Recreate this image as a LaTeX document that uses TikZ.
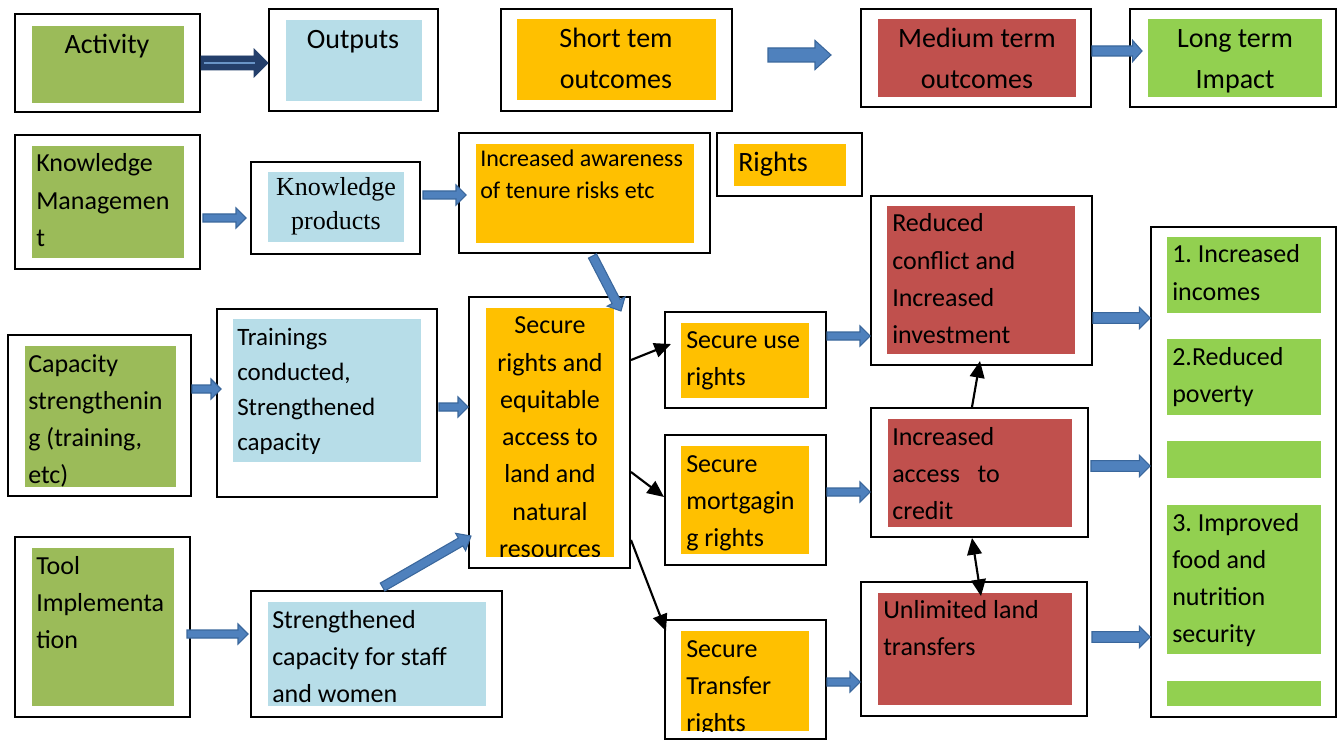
\documentclass[tikz,border=0pt]{standalone}
\usepackage{fontspec}
\setmainfont{Carlito}
\newfontfamily\serifKP{Liberation Serif}
\usetikzlibrary{calc,fit,arrows.meta}
\frenchspacing

\definecolor{cAct}{HTML}{9BBB59}
\definecolor{cOut}{HTML}{B7DDE8}
\definecolor{cShort}{HTML}{FFC000}
\definecolor{cMed}{HTML}{C0504D}
\definecolor{cLong}{HTML}{92D050}
\definecolor{cArrow}{HTML}{4F81BD}
\definecolor{cArrowEdge}{HTML}{3A679C}
\definecolor{cNavy}{HTML}{243F6B}

% text sizes
\newcommand\fTop{\fontsize{21pt}{30.75pt}\selectfont}
\newcommand\fMain{\fontsize{19.5pt}{27.9pt}\selectfont}
\newcommand\fTrain{\fontsize{18.75pt}{26.25pt}\selectfont}
\newcommand\fSmall{\fontsize{18pt}{24pt}\selectfont}
\newcommand\fKP{\serifKP\fontsize{19.5pt}{25.5pt}\selectfont}

% stacked lines, baseline on the first line
\newcommand\tl[1]{\begin{tabular}[t]{@{}l@{}}#1\end{tabular}}
\newcommand\tc[1]{\begin{tabular}[t]{@{}c@{}}#1\end{tabular}}

% block arrow: [style]{half shaft}{half head}{head length}{from}{to}
\newcommand\barrow[6][bluearr]{%
  \coordinate (ba-s) at #5;
  \coordinate (ba-e) at #6;
  \coordinate (ba-h) at ($(ba-e)!#4!(ba-s)$);
  \filldraw[#1] ($(ba-s)!#2!90:(ba-e)$) -- ($(ba-h)!#2!-90:(ba-s)$)
    -- ($(ba-h)!#3!-90:(ba-s)$) -- (ba-e) -- ($(ba-h)!#3!90:(ba-s)$)
    -- ($(ba-h)!#2!90:(ba-s)$) -- ($(ba-s)!#2!-90:(ba-e)$) -- cycle;}

\tikzset{
  frame/.style={draw=black, line width=1.5pt, inner sep=0pt},
  bluearr/.style={fill=cArrow, draw=cArrowEdge, line width=0.8pt, line join=miter},
  navyarr/.style={fill=cNavy, draw=cNavy, line width=0.6pt},
  blk/.style={draw=black, line width=1.6pt, -{Triangle[length=12.5pt,width=11pt]}},
  blkboth/.style={draw=black, line width=1.6pt,
    {Triangle[length=12.5pt,width=11pt]}-{Triangle[length=12.5pt,width=11pt]}},
  lbl/.style={inner sep=0pt, anchor=base west, text=black},
  lblc/.style={inner sep=0pt, anchor=base, text=black},
}

\begin{document}
\begin{tikzpicture}[x=0.75pt,y=-0.75pt]
\useasboundingbox[fill=white] (0,0) rectangle (1337,741);

% ---------- outer frames ----------
\node[frame, fit={(15,14) (200,112)}] (act) {};
\node[frame, fit={(269,9) (438,111)}] (out) {};
\node[frame, fit={(501,9) (732,111)}] (st) {};
\node[frame, fit={(861,9) (1091,107)}] (mt) {};
\node[frame, fit={(1130,9) (1336,107)}] (lt) {};
\node[frame, fit={(15,135) (200,269)}] (km) {};
\node[frame, fit={(251,162) (420,254)}] (kp) {};
\node[frame, fit={(459,133) (710,253)}] (ia) {};
\node[frame, fit={(717,133) (862,196)}] (rt) {};
\node[frame, fit={(8,335) (191,496)}] (cs) {};
\node[frame, fit={(217,309) (437,497)}] (tr) {};
\node[frame, fit={(469,297) (630,568)}] (sr) {};
\node[frame, fit={(665,312) (826,408)}] (su) {};
\node[frame, fit={(665,435) (826,565)}] (sm) {};
\node[frame, fit={(665,620) (826,739)}] (stt) {};
\node[frame, fit={(871,196) (1092,365)}] (rc) {};
\node[frame, fit={(871,408) (1088,537)}] (iac) {};
\node[frame, fit={(861,582) (1087,716)}] (ul) {};
\node[frame, fit={(1151,227) (1336,717)}] (imp) {};
\node[frame, fit={(15,537) (190,717)}] (tool) {};
\node[frame, fit={(251,591) (502,717)}] (sc) {};

% ---------- coloured panels ----------
\fill[cAct] (32,26) rectangle (184,103);
\fill[cOut] (286,20) rectangle (422,101);
\fill[cShort] (517,19) rectangle (716,100);
\fill[cMed] (878,19) rectangle (1076,97);
\fill[cLong] (1148,19) rectangle (1322,97);
\fill[cAct] (32,146) rectangle (184,258);
\fill[cOut] (268,172) rectangle (404,242);
\fill[cShort] (476,144) rectangle (694,243);
\fill[cShort] (734,144) rectangle (846,186);
\fill[cAct] (25,346) rectangle (176,487);
\fill[cOut] (233,319) rectangle (421,462);
\fill[cShort] (486,308) rectangle (614,557);
\fill[cShort] (681,323) rectangle (809,398);
\fill[cShort] (681,446) rectangle (809,554);
\fill[cShort] (681,631) rectangle (809,731);
\fill[cMed] (887,206) rectangle (1075,354);
\fill[cMed] (888,419) rectangle (1072,527);
\fill[cMed] (878,593) rectangle (1072,705);
\fill[cLong] (1167,237) rectangle (1321,313);
\fill[cLong] (1167,339) rectangle (1321,415);
\fill[cLong] (1167,441) rectangle (1321,478);
\fill[cLong] (1167,505) rectangle (1321,654);
\fill[cLong] (1167,681) rectangle (1321,706);
\fill[cAct] (32,548) rectangle (174,706);
\fill[cOut] (268,602) rectangle (486,706);

% ---------- texts ----------
\node[lblc, font=\fTop] (t-act) at (107,54) {Activity};
\node[lblc, font=\fTop] (t-out) at (353,49) {Outputs};
\node[lblc, font=\fTop] (t-st) at (616,48) {\tc{Short tem\\outcomes}};
\node[lblc, font=\fTop] (t-mt) at (977,48) {\tc{Medium term\\outcomes}};
\node[lblc, font=\fTop] (t-lt) at (1235,48) {\tc{Long term\\Impact}};

\node[lbl, font=\fMain] (t-km) at (36,172) {\tl{Knowledge\\Managemen\\t}};
\node[lblc, font=\fKP] (t-kp) at (336,196) {\tc{Knowledge\\products}};
\node[lbl, font=\fSmall] (t-ia) at (480,167) {\tl{Increased awareness\\of tenure risks etc}};
\node[lbl, font=\fTop] (t-rt) at (738,172) {Rights};

\node[lbl, font=\fMain] (t-cs) at (28,372) {\tl{Capacity\\strengthenin\\g (training,\\etc)}};
\node[lbl, font=\fTrain] (t-tr) at (237,345) {\tl{Trainings\\conducted,\\Strengthened\\capacity}};
\begin{scope}
  \clip (486,308) rectangle (614,556);
  \node[lblc, font=\fMain] (t-sr) at (550,334)
    {\tc{Secure\\rights and\\equitable\\access to\\land and\\natural\\resources}};
\end{scope}
\node[lbl, font=\fMain] (t-su) at (686,348) {\tl{Secure use\\rights}};
\node[lbl, font=\fMain] (t-sm) at (686,472) {\tl{Secure\\mortgagin\\g rights}};
\begin{scope}
  \clip (681,631) rectangle (809,731);
  \node[lbl, font=\fMain] (t-stt) at (686,657) {\tl{Secure\\Transfer\\rights}};
\end{scope}

\node[lbl, font=\fMain] (t-rc) at (892,232) {\tl{Reduced\\conflict and\\Increased\\investment}};
\node[lbl, font=\fMain] (t-iac) at (892,445) {\tl{Increased\\access\ \ \ to\\credit}};
\node[lbl, font=\fMain] (t-ul) at (883,618) {\tl{Unlimited land\\transfers}};

\node[lbl, font=\fMain] (t-i1) at (1172,263) {\tl{1. Increased\\incomes}};
\node[lbl, font=\fMain] (t-i2) at (1172,365) {\tl{2.Reduced\\poverty}};
\node[lbl, font=\fMain] (t-i3) at (1172,531) {\tl{3. Improved\\food and\\nutrition\\security}};

\node[lbl, font=\fMain] (t-tool) at (36,574) {\tl{Tool\\Implementa\\tion}};
\node[lbl, font=\fMain] (t-sc) at (272,628) {\tl{Strengthened\\capacity for staff\\and women}};

% ---------- block arrows ----------
\barrow[navyarr]{5.25pt}{10.5pt}{10.5pt}{(act.east |- 0,63)}{(out.west |- 0,63)}
\draw[cArrow!85!white, line width=1.8pt] ([xshift=2pt]act.east |- 0,63) -- ([xshift=-10pt]out.west |- 0,63);

\coordinate (stm-a) at (768,55);
\coordinate (stm-b) at (831,55);
\barrow{5.25pt}{10.9pt}{12pt}{(stm-a)}{(stm-b)}
\barrow{3.75pt}{7.9pt}{7pt}{(mt.east |- 0,51)}{($(lt.west |- 0,51)+(13,0)$)}

\barrow{3pt}{7.5pt}{7.5pt}{($(km.east |- 0,218)+(2,0)$)}{($(kp.west |- 0,218)+(-4,0)$)}
\barrow{3pt}{7.5pt}{7.5pt}{($(kp.east |- 0,195)+(2,0)$)}{($(ia.west |- 0,195)+(8,0)$)}
\barrow{3.4pt}{7.5pt}{8pt}{($(ia.south)+(8,2)$)}{($(sr.north east)+(-10,15)$)}

\barrow{3pt}{7.5pt}{7.5pt}{(cs.east |- 0,389)}{($(tr.west |- 0,389)+(5,0)$)}
\barrow{3pt}{7.5pt}{7.5pt}{($(tr.east |- 0,407)+(1,0)$)}{(sr.west |- 0,407)}
\barrow{3.4pt}{7.5pt}{9pt}{($(sc.north)+(6,-3)$)}{($(sr.south west)+(3,-33)$)}
\barrow{3pt}{7.5pt}{7.5pt}{($(tool.east |- 0,634)+(-4,0)$)}{($(sc.west |- 0,634)+(-2,0)$)}

\barrow{3pt}{7.5pt}{7.5pt}{(su.east |- 0,336)}{(rc.west |- 0,336)}
\barrow{3pt}{7.5pt}{7.5pt}{(sm.east |- 0,492)}{(iac.west |- 0,492)}
\barrow{3pt}{7.5pt}{7.5pt}{(stt.east |- 0,682)}{(ul.west |- 0,682)}

\barrow{4pt}{8pt}{8pt}{(rc.east |- 0,318)}{(imp.west |- 0,318)}
\barrow{4pt}{8pt}{8pt}{($(iac.east |- 0,466)+(2,0)$)}{(imp.west |- 0,466)}
\barrow{4pt}{8pt}{8pt}{($(ul.east |- 0,637)+(4,0)$)}{(imp.west |- 0,637)}

% ---------- black connectors ----------
\draw[blk] (sr.east |- 0,360) -- ($(su.west |- 0,344)+(7,0)$);
\draw[blk] (sr.east |- 0,472) -- (sm.west |- 0,497);
\draw[blk] (sr.east |- 0,540) -- ($(stt.north west)+(2,12)$);
\draw[blk] (iac.north -| 972,0) -- ($(rc.south -| 980,0)+(0,-5)$);
\draw[blkboth] (iac.south -| 972,0) -- ($(ul.north -| 981,0)+(0,15)$);
\end{tikzpicture}
\end{document}
